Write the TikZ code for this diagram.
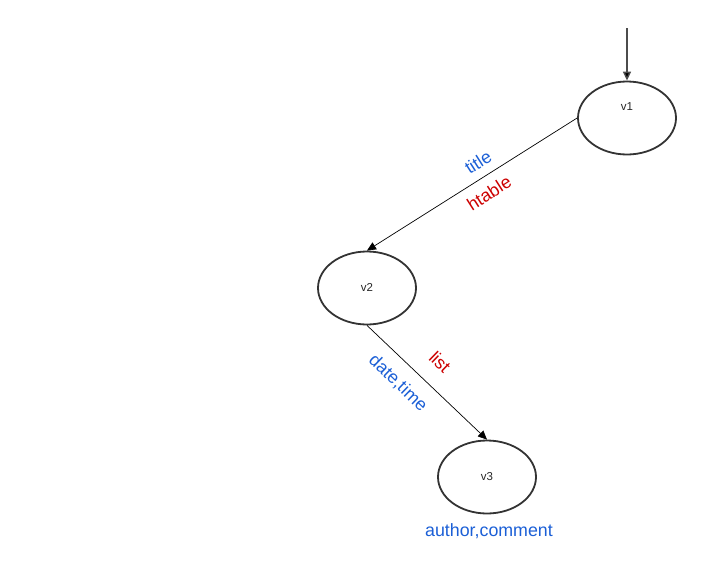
\documentclass[tikz,border=0pt]{standalone}
\usepackage{fontspec}
\setmainfont{Liberation Sans}
\usetikzlibrary{arrows.meta,shapes.geometric}
\definecolor{lblue}{HTML}{1B5FD6}
\definecolor{lred}{HTML}{CC0000}
\tikzset{
  state/.style={ellipse, draw=black!80, line width=1.8pt, minimum width=98pt, minimum height=73pt, inner sep=0pt},
  statelbl/.style={font=\fontsize{11.5pt}{13pt}\selectfont, text=black!85},
  edge/.style={draw=black, line width=0.7pt, -{Triangle[length=9pt,width=8pt]}},
  bluelbl/.style={text=lblue, font=\fontsize{17.8pt}{19pt}\selectfont, inner sep=0pt},
  redlbl/.style={text=lred, font=\fontsize{17.8pt}{19pt}\selectfont, inner sep=0pt},
}
\begin{document}
\begin{tikzpicture}[x=1pt,y=-1pt]
\useasboundingbox (0,0) rectangle (721,563);
\node[state] (v1) at (627,118) {};
\node[statelbl] (v1l) at (627,107) {v1};
\node[state] (v2) at (367,288) {};
\node[statelbl] (v2l) at (367,287) {v2};
\node[state] (v3) at (487,477) {};
\node[statelbl] (v3l) at (487,477) {v3};
\coordinate (start) at (627,28);
\draw[draw=black!70, line width=1.4pt, -{Triangle[length=9pt,width=8pt,fill=black]}] (start) -- (v1.north);
\draw[edge] (v1.west) -- (v2.north);
\draw[edge] (v2.south) -- (v3.north);
\node[bluelbl, rotate=32.6] (t1) at (478,162) {title};
\node[redlbl, rotate=32.6] (t2) at (489,193) {htable};
\node[redlbl, rotate=-44] (t3) at (440,362) {list};
\node[bluelbl, rotate=-44] (t4) at (398,383) {date,time};
\node[bluelbl] (t5) at (489,531) {author,comment};
\end{tikzpicture}
\end{document}
